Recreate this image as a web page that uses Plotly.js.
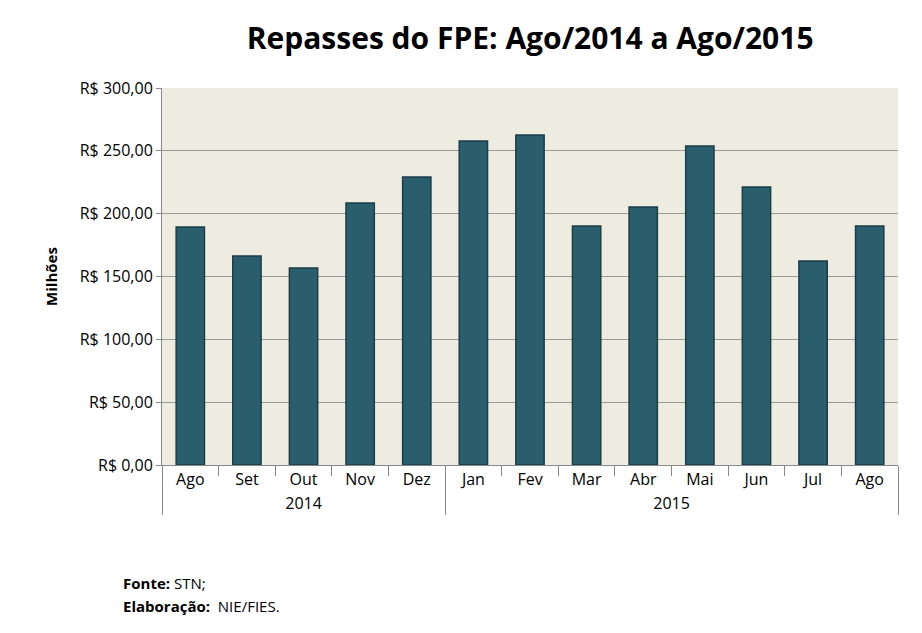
<!DOCTYPE html>
<html>
<head>
<meta charset="utf-8">
<script src="https://cdn.plot.ly/plotly-3.0.1.min.js"></script>
<style>body{margin:0;background:#fff}</style>
</head>
<body>
<div id="chart" style="width:922px;height:633px"></div>
<script>
var years = ['2014','2014','2014','2014','2014','2015','2015','2015','2015','2015','2015','2015','2015'];
// the second "Ago" carries a zero-width space so Plotly keeps it as its own category
var months = ['Ago','Set','Out','Nov','Dez','Jan','Fev','Mar','Abr','Mai','Jun','Jul','Ago\u200b'];
var repasses = [189.4, 166.3, 156.8, 208.5, 229.2, 257.8, 262.6, 190.2, 205.3, 253.8, 221.2, 162.3, 190.2];
var yTicks = [0, 50, 100, 150, 200, 250, 300];
var yTickText = ['R$ 0,00','R$ 50,00','R$ 100,00','R$ 150,00','R$ 200,00','R$ 250,00','R$ 300,00'];

var data = [{
  type: 'bar',
  x: [years, months],
  y: repasses,
  marker: {color: '#2b5e6d', line: {color: '#1b3d48', width: 1.5}},
  hoverinfo: 'y'
}];

var layout = {
  width: 922,
  height: 633,
  margin: {l: 162, r: 24, t: 88, b: 168},
  paper_bgcolor: '#ffffff',
  plot_bgcolor: '#eeece1',
  font: {family: 'Open Sans, sans-serif', size: 16, color: '#000'},
  title: {text: '<b>Repasses do FPE: Ago/2014 a Ago/2015</b>', x: 0.575, xanchor: 'center', y: 0.955, font: {size: 30, family: 'Open Sans, sans-serif'}},
  showlegend: false,
  bargap: 0.5,
  xaxis: {
    type: 'multicategory',
    showline: true, linecolor: '#888', linewidth: 1,
    showdividers: true, dividercolor: '#888', dividerwidth: 1,
    tickfont: {size: 16},
    ticks: 'outside', tickcolor: '#888', ticklen: 10
  },
  yaxis: {
    range: [0, 300],
    tickvals: yTicks,
    ticktext: yTickText,
    tickfont: {size: 16},
    gridcolor: '#9a9a9a',
    showline: true, linecolor: '#888',
    zeroline: false,
    ticks: 'outside', tickcolor: '#888',
    title: {text: '<b>Milhões</b>', font: {size: 15}, standoff: 18}
  },
  annotations: [
    {xref: 'paper', yref: 'paper', x: -0.056, y: -0.313, xanchor: 'left', yanchor: 'middle', showarrow: false, align: 'left',
     text: '<b>Fonte:</b> STN;', font: {size: 15}},
    {xref: 'paper', yref: 'paper', x: -0.056, y: -0.374, xanchor: 'left', yanchor: 'middle', showarrow: false, align: 'left',
     text: '<b>Elaboração:</b>  NIE/FIES.', font: {size: 15}}
  ]
};

Plotly.newPlot('chart', data, layout, {displayModeBar: false});
</script>
</body>
</html>
